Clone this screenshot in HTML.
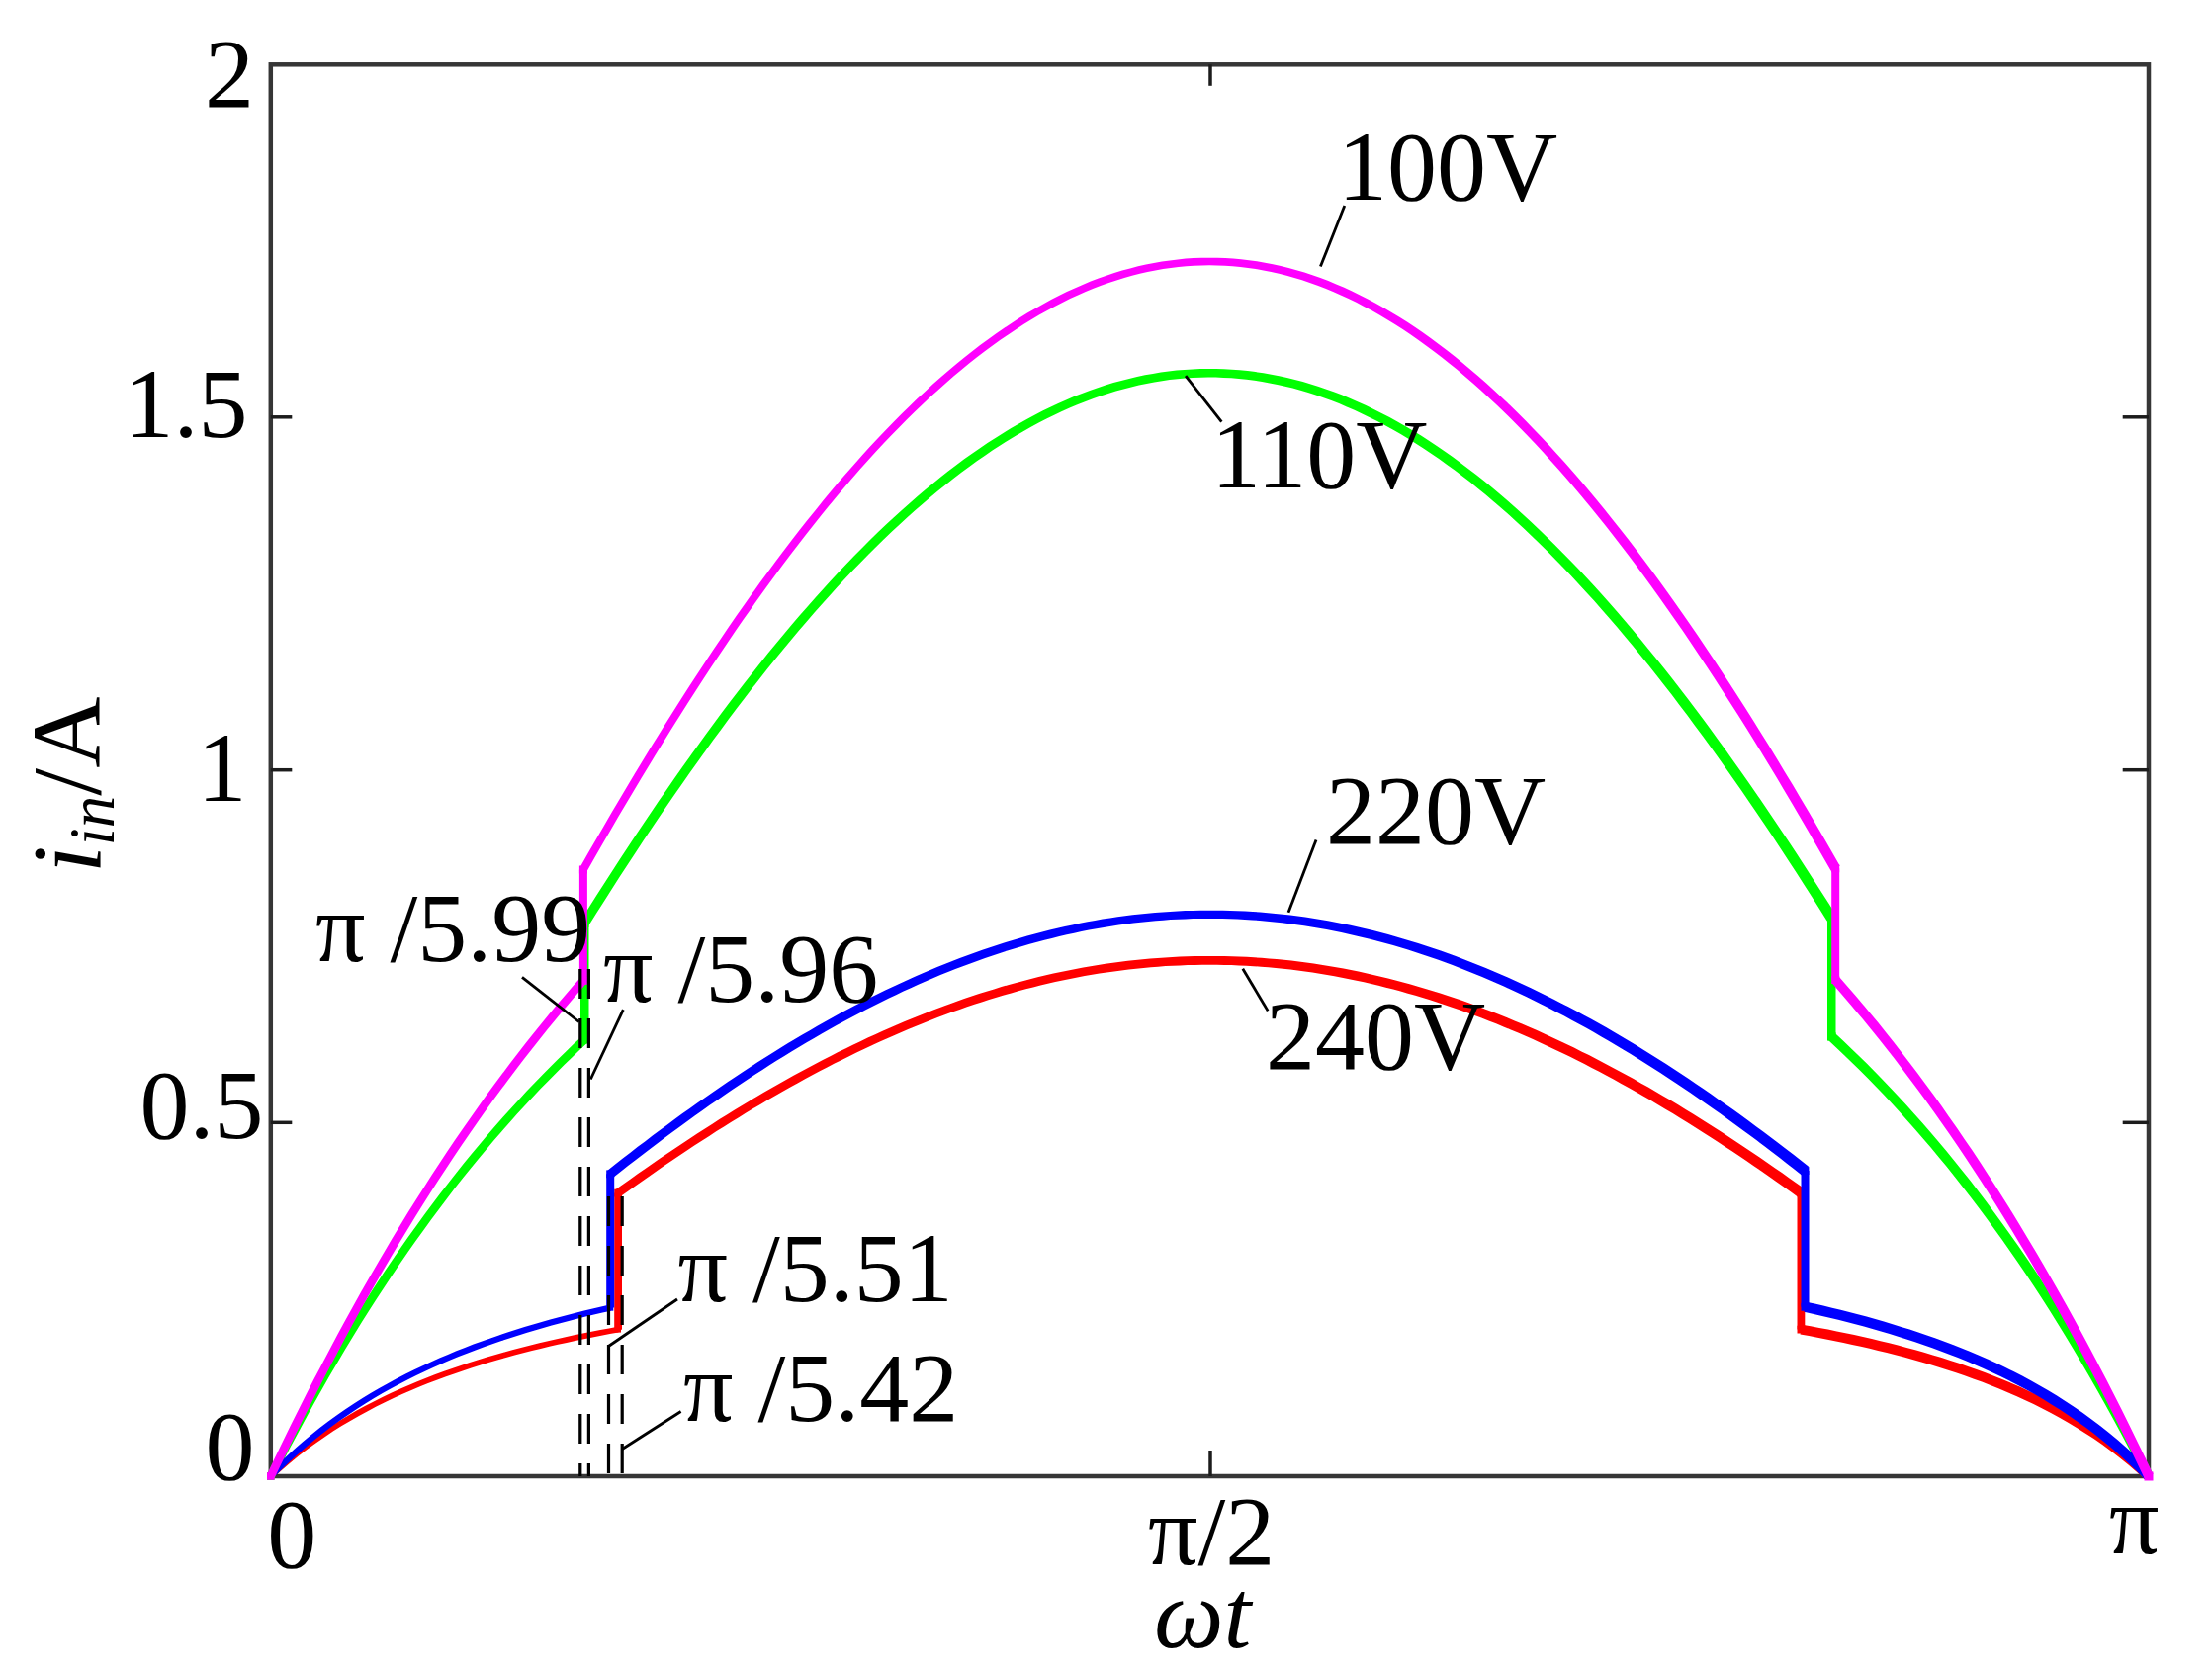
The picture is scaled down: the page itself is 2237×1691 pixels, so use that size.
<!DOCTYPE html>
<html><head><meta charset="utf-8"><title>i_in vs wt</title>
<style>html,body{margin:0;padding:0;background:#fff}body{width:2237px;height:1691px;overflow:hidden}svg{display:block}text{font-family:"Liberation Serif","DejaVu Serif",serif;fill:#000}</style></head><body>
<svg width="2237" height="1691" viewBox="0 0 2237 1691">
<rect width="2237" height="1691" fill="#fff"/>
<rect x="273.8" y="65.3" width="1899.2" height="1427.7" fill="none" stroke="#363636" stroke-width="4.5"/>
<line x1="273.8" y1="1135.3" x2="295.3" y2="1135.3" stroke="#1c1c1c" stroke-width="3.5"/>
<line x1="2173.0" y1="1135.3" x2="2146.7" y2="1135.3" stroke="#1c1c1c" stroke-width="3.5"/>
<line x1="273.8" y1="778.7" x2="295.3" y2="778.7" stroke="#1c1c1c" stroke-width="3.5"/>
<line x1="2173.0" y1="778.7" x2="2146.7" y2="778.7" stroke="#1c1c1c" stroke-width="3.5"/>
<line x1="273.8" y1="421.8" x2="295.3" y2="421.8" stroke="#1c1c1c" stroke-width="3.5"/>
<line x1="2173.0" y1="421.8" x2="2146.7" y2="421.8" stroke="#1c1c1c" stroke-width="3.5"/>
<line x1="1224.0" y1="1493.0" x2="1224.0" y2="1467.0" stroke="#1c1c1c" stroke-width="3.5"/>
<line x1="1224.0" y1="65.3" x2="1224.0" y2="86.8" stroke="#1c1c1c" stroke-width="3.5"/>
<g fill="#ff0000" stroke="none"><path d="M275.8 1495.1 L284.5 1487.2 L293.2 1479.7 L301.9 1472.6 L310.7 1465.8 L319.4 1459.4 L328.1 1453.4 L336.8 1447.6 L345.6 1442.1 L354.3 1436.9 L363.0 1431.9 L371.8 1427.2 L380.5 1422.6 L389.2 1418.3 L398.0 1414.1 L406.7 1410.1 L415.5 1406.3 L424.2 1402.6 L432.9 1399.1 L441.7 1395.7 L450.4 1392.5 L459.2 1389.4 L467.9 1386.4 L476.7 1383.5 L485.4 1380.7 L494.2 1378.1 L502.9 1375.5 L511.7 1373.0 L520.5 1370.6 L529.2 1368.3 L538.0 1366.1 L546.7 1363.9 L555.5 1361.8 L564.3 1359.8 L573.0 1357.9 L581.8 1356.0 L590.5 1354.2 L599.3 1352.4 L608.1 1350.7 L616.8 1349.1 L625.6 1347.5 L624.6 1341.8 L615.8 1343.4 L607.0 1345.0 L598.2 1346.8 L589.4 1348.5 L580.6 1350.3 L571.8 1352.2 L563.0 1354.2 L554.2 1356.2 L545.4 1358.3 L536.6 1360.4 L527.8 1362.7 L519.0 1365.0 L510.1 1367.4 L501.3 1369.9 L492.5 1372.5 L483.7 1375.2 L474.9 1378.0 L466.1 1380.9 L457.3 1383.9 L448.5 1387.0 L439.6 1390.3 L430.8 1393.7 L422.0 1397.3 L413.2 1401.0 L404.4 1404.8 L395.5 1408.8 L386.7 1413.0 L377.9 1417.4 L369.0 1422.0 L360.2 1426.8 L351.4 1431.9 L342.5 1437.2 L333.7 1442.7 L324.9 1448.6 L316.0 1454.7 L307.2 1461.2 L298.3 1468.0 L289.5 1475.2 L280.7 1482.8 L271.8 1490.9Z"/><path d="M627.6 1210.1 L635.1 1204.7 L642.5 1199.4 L650.0 1194.2 L657.5 1188.9 L664.9 1183.8 L672.4 1178.6 L679.9 1173.6 L687.3 1168.5 L694.8 1163.5 L702.2 1158.6 L709.7 1153.7 L717.2 1148.9 L724.6 1144.1 L732.1 1139.4 L739.5 1134.8 L747.0 1130.2 L754.4 1125.6 L761.9 1121.1 L769.4 1116.7 L776.8 1112.3 L784.3 1108.0 L791.7 1103.7 L799.2 1099.5 L806.6 1095.4 L814.1 1091.3 L821.5 1087.3 L829.0 1083.3 L836.4 1079.5 L843.9 1075.6 L851.3 1071.9 L858.8 1068.2 L866.2 1064.6 L873.7 1061.0 L881.1 1057.5 L888.6 1054.1 L896.0 1050.7 L903.5 1047.4 L910.9 1044.2 L918.4 1041.0 L925.8 1037.9 L933.3 1034.9 L940.7 1032.0 L948.2 1029.1 L955.6 1026.3 L963.0 1023.6 L970.5 1020.9 L977.9 1018.3 L985.4 1015.8 L992.8 1013.4 L1000.2 1011.0 L1007.7 1008.7 L1015.1 1006.5 L1022.6 1004.4 L1030.0 1002.3 L1037.4 1000.3 L1044.9 998.4 L1052.3 996.6 L1059.7 994.8 L1067.2 993.1 L1074.6 991.5 L1082.1 990.0 L1089.5 988.5 L1096.9 987.1 L1104.4 985.8 L1111.8 984.6 L1119.2 983.5 L1126.7 982.4 L1134.1 981.4 L1141.5 980.5 L1148.9 979.7 L1156.4 978.9 L1163.8 978.3 L1171.2 977.7 L1178.7 977.1 L1186.1 976.7 L1193.5 976.4 L1201.0 976.1 L1208.4 975.9 L1215.8 975.8 L1223.3 975.7 L1230.7 975.8 L1238.1 975.9 L1245.5 976.1 L1253.0 976.4 L1260.4 976.8 L1267.8 977.2 L1275.3 977.7 L1282.7 978.3 L1290.1 979.0 L1297.5 979.8 L1305.0 980.6 L1312.4 981.6 L1319.8 982.6 L1327.3 983.6 L1334.7 984.8 L1342.1 986.0 L1349.5 987.3 L1357.0 988.7 L1364.4 990.2 L1371.8 991.7 L1379.3 993.3 L1386.7 995.0 L1394.1 996.8 L1401.5 998.7 L1409.0 1000.6 L1416.4 1002.6 L1423.8 1004.7 L1431.3 1006.8 L1438.7 1009.0 L1446.1 1011.3 L1453.6 1013.7 L1461.0 1016.2 L1468.4 1018.7 L1475.9 1021.3 L1483.3 1023.9 L1490.7 1026.7 L1498.2 1029.5 L1505.6 1032.4 L1513.0 1035.3 L1520.5 1038.4 L1527.9 1041.4 L1535.3 1044.6 L1542.8 1047.8 L1550.2 1051.1 L1557.6 1054.5 L1565.1 1057.9 L1572.5 1061.4 L1580.0 1065.0 L1587.4 1068.6 L1594.8 1072.3 L1602.3 1076.1 L1609.7 1079.9 L1617.2 1083.8 L1624.6 1087.8 L1632.1 1091.8 L1639.5 1095.9 L1646.9 1100.0 L1654.4 1104.2 L1661.8 1108.5 L1669.3 1112.8 L1676.7 1117.2 L1684.2 1121.7 L1691.6 1126.1 L1699.1 1130.7 L1706.5 1135.3 L1714.0 1140.0 L1721.4 1144.7 L1728.9 1149.5 L1736.3 1154.3 L1743.8 1159.2 L1751.2 1164.1 L1758.7 1169.1 L1766.1 1174.1 L1773.6 1179.2 L1781.0 1184.3 L1788.5 1189.5 L1795.9 1194.8 L1803.4 1200.0 L1810.8 1205.3 L1818.3 1210.7 L1824.5 1202.1 L1817.0 1196.7 L1809.5 1191.4 L1802.0 1186.1 L1794.5 1180.9 L1787.0 1175.7 L1779.5 1170.5 L1772.0 1165.4 L1764.5 1160.4 L1757.0 1155.4 L1749.5 1150.5 L1742.0 1145.6 L1734.5 1140.7 L1727.0 1135.9 L1719.5 1131.2 L1712.0 1126.5 L1704.5 1121.9 L1697.0 1117.3 L1689.5 1112.8 L1682.0 1108.4 L1674.4 1104.0 L1666.9 1099.6 L1659.4 1095.4 L1651.9 1091.1 L1644.4 1087.0 L1636.9 1082.9 L1629.4 1078.9 L1621.9 1074.9 L1614.4 1071.0 L1606.9 1067.1 L1599.3 1063.4 L1591.8 1059.6 L1584.3 1056.0 L1576.8 1052.4 L1569.3 1048.9 L1561.8 1045.5 L1554.3 1042.1 L1546.7 1038.8 L1539.2 1035.5 L1531.7 1032.4 L1524.2 1029.3 L1516.7 1026.2 L1509.1 1023.3 L1501.6 1020.4 L1494.1 1017.6 L1486.6 1014.8 L1479.1 1012.1 L1471.6 1009.6 L1464.0 1007.0 L1456.5 1004.6 L1449.0 1002.2 L1441.5 999.9 L1433.9 997.7 L1426.4 995.5 L1418.9 993.4 L1411.4 991.4 L1403.8 989.5 L1396.3 987.7 L1388.8 985.9 L1381.3 984.2 L1373.8 982.6 L1366.2 981.1 L1358.7 979.6 L1351.2 978.2 L1343.7 976.9 L1336.1 975.7 L1328.6 974.6 L1321.1 973.5 L1313.5 972.5 L1306.0 971.6 L1298.5 970.8 L1291.0 970.0 L1283.4 969.4 L1275.9 968.8 L1268.4 968.3 L1260.9 967.8 L1253.3 967.5 L1245.8 967.2 L1238.3 967.0 L1230.8 966.9 L1223.2 966.9 L1215.7 967.0 L1208.2 967.1 L1200.7 967.3 L1193.2 967.6 L1185.6 967.9 L1178.1 968.4 L1170.6 968.9 L1163.1 969.5 L1155.5 970.2 L1148.0 971.0 L1140.5 971.8 L1133.0 972.7 L1125.5 973.7 L1117.9 974.8 L1110.4 976.0 L1102.9 977.2 L1095.4 978.5 L1087.8 979.9 L1080.3 981.4 L1072.8 983.0 L1065.3 984.6 L1057.8 986.3 L1050.3 988.1 L1042.7 989.9 L1035.2 991.9 L1027.7 993.9 L1020.2 996.0 L1012.7 998.1 L1005.2 1000.4 L997.6 1002.7 L990.1 1005.1 L982.6 1007.6 L975.1 1010.1 L967.6 1012.7 L960.1 1015.4 L952.6 1018.2 L945.1 1021.0 L937.5 1023.9 L930.0 1026.9 L922.5 1029.9 L915.0 1033.0 L907.5 1036.2 L900.0 1039.5 L892.5 1042.8 L885.0 1046.2 L877.5 1049.6 L870.0 1053.2 L862.5 1056.8 L855.0 1060.4 L847.5 1064.1 L840.0 1067.9 L832.5 1071.8 L825.0 1075.7 L817.5 1079.7 L810.0 1083.7 L802.5 1087.8 L795.0 1092.0 L787.5 1096.2 L780.0 1100.5 L772.5 1104.8 L765.0 1109.2 L757.5 1113.7 L750.0 1118.2 L742.5 1122.8 L735.0 1127.4 L727.5 1132.1 L720.0 1136.9 L712.5 1141.7 L705.0 1146.5 L697.5 1151.4 L690.0 1156.4 L682.5 1161.4 L675.0 1166.4 L667.5 1171.5 L660.0 1176.7 L652.5 1181.9 L645.1 1187.1 L637.6 1192.4 L630.1 1197.8 L622.6 1203.1Z"/><path d="M1820.5 1349.5 L1829.3 1351.1 L1838.0 1352.8 L1846.8 1354.4 L1855.6 1356.2 L1864.3 1358.0 L1873.1 1359.9 L1881.8 1361.8 L1890.6 1363.8 L1899.3 1365.9 L1908.1 1368.0 L1916.8 1370.3 L1925.6 1372.6 L1934.3 1375.0 L1943.1 1377.4 L1951.8 1380.0 L1960.6 1382.7 L1969.3 1385.4 L1978.0 1388.3 L1986.8 1391.3 L1995.5 1394.4 L2004.2 1397.6 L2012.9 1401.0 L2021.7 1404.5 L2030.4 1408.2 L2039.1 1412.0 L2047.8 1415.9 L2056.5 1420.1 L2065.3 1424.4 L2074.0 1429.0 L2082.7 1433.7 L2091.4 1438.7 L2100.1 1443.9 L2108.8 1449.4 L2117.5 1455.1 L2126.1 1461.1 L2134.8 1467.5 L2143.5 1474.2 L2152.2 1481.3 L2160.9 1488.7 L2169.6 1496.7 L2176.4 1489.3 L2167.5 1481.3 L2158.6 1473.6 L2149.7 1466.4 L2140.8 1459.5 L2132.0 1453.0 L2123.1 1446.8 L2114.2 1440.9 L2105.3 1435.4 L2096.4 1430.0 L2087.5 1425.0 L2078.7 1420.1 L2069.8 1415.5 L2060.9 1411.1 L2052.1 1406.9 L2043.2 1402.8 L2034.3 1399.0 L2025.5 1395.3 L2016.6 1391.7 L2007.8 1388.3 L1998.9 1385.0 L1990.1 1381.9 L1981.2 1378.8 L1972.4 1375.9 L1963.5 1373.1 L1954.7 1370.4 L1945.8 1367.8 L1937.0 1365.3 L1928.2 1362.9 L1919.3 1360.6 L1910.5 1358.3 L1901.7 1356.2 L1892.9 1354.1 L1884.0 1352.1 L1875.2 1350.1 L1866.4 1348.2 L1857.6 1346.4 L1848.7 1344.6 L1839.9 1342.9 L1831.1 1341.3 L1822.3 1339.7Z"/><path d="M621.2 1206.6H629.0V1344.7H621.2Z"/><path d="M1817.5 1206.4H1825.3V1344.6H1817.5Z"/><path d="M621.2 1202.7h7.8v7.8h-7.8Z"/><path d="M1817.5 1202.5h7.8v7.8h-7.8Z"/><path d="M270.9 1490.1h5.8v5.8h-5.8Z"/><path d="M622.2 1341.8h5.8v5.8h-5.8Z"/><path d="M1817.5 1340.7h7.8v7.8h-7.8Z"/><path d="M2169.2 1489.2h7.6v7.6h-7.6Z"/></g>
<g fill="#00ff00" stroke="none"><path d="M277.6 1494.9 L285.5 1479.4 L293.4 1464.1 L301.4 1449.2 L309.3 1434.5 L317.2 1420.1 L325.1 1406.0 L333.0 1392.1 L341.0 1378.5 L348.9 1365.1 L356.8 1352.0 L364.7 1339.1 L372.6 1326.5 L380.6 1314.1 L388.5 1301.9 L396.4 1290.0 L404.3 1278.3 L412.2 1266.8 L420.1 1255.5 L428.1 1244.4 L436.0 1233.5 L443.9 1222.9 L451.8 1212.4 L459.7 1202.1 L467.6 1192.1 L475.5 1182.2 L483.5 1172.5 L491.4 1162.9 L499.3 1153.6 L507.2 1144.4 L515.1 1135.4 L523.0 1126.6 L530.9 1118.0 L538.8 1109.5 L546.7 1101.1 L554.7 1093.0 L562.6 1085.0 L570.5 1077.1 L578.4 1069.4 L586.3 1061.8 L594.2 1054.4 L588.4 1048.2 L580.4 1055.6 L572.5 1063.3 L564.5 1071.0 L556.5 1079.0 L548.6 1087.0 L540.6 1095.3 L532.6 1103.6 L524.7 1112.2 L516.7 1120.9 L508.7 1129.8 L500.8 1138.8 L492.8 1148.1 L484.9 1157.5 L476.9 1167.1 L468.9 1176.8 L461.0 1186.8 L453.0 1196.9 L445.0 1207.2 L437.1 1217.8 L429.1 1228.5 L421.2 1239.4 L413.2 1250.6 L405.2 1261.9 L397.3 1273.5 L389.3 1285.3 L381.4 1297.3 L373.4 1309.5 L365.5 1321.9 L357.5 1334.6 L349.5 1347.6 L341.6 1360.7 L333.6 1374.2 L325.7 1387.8 L317.7 1401.8 L309.8 1416.0 L301.8 1430.4 L293.9 1445.2 L285.9 1460.2 L278.0 1475.5 L270.0 1491.1Z"/><path d="M595.4 936.1 L603.2 923.6 L611.1 911.2 L619.0 898.8 L626.8 886.6 L634.7 874.5 L642.6 862.5 L650.4 850.6 L658.3 838.8 L666.2 827.1 L674.0 815.5 L681.9 804.1 L689.8 792.7 L697.6 781.5 L705.5 770.4 L713.4 759.4 L721.2 748.6 L729.1 737.9 L736.9 727.3 L744.8 716.8 L752.7 706.5 L760.5 696.3 L768.4 686.2 L776.2 676.3 L784.1 666.5 L791.9 656.9 L799.8 647.4 L807.7 638.1 L815.5 628.9 L823.4 619.8 L831.2 610.9 L839.1 602.2 L846.9 593.6 L854.8 585.1 L862.6 576.8 L870.5 568.7 L878.3 560.7 L886.1 552.9 L894.0 545.2 L901.8 537.7 L909.7 530.4 L917.5 523.2 L925.3 516.2 L933.2 509.4 L941.0 502.7 L948.8 496.2 L956.7 489.9 L964.5 483.8 L972.3 477.8 L980.2 472.0 L988.0 466.3 L995.8 460.9 L1003.6 455.6 L1011.4 450.5 L1019.3 445.5 L1027.1 440.8 L1034.9 436.2 L1042.7 431.8 L1050.5 427.6 L1058.3 423.6 L1066.1 419.7 L1073.9 416.1 L1081.7 412.6 L1089.5 409.3 L1097.3 406.2 L1105.1 403.2 L1112.9 400.5 L1120.7 397.9 L1128.5 395.6 L1136.2 393.4 L1144.0 391.4 L1151.8 389.5 L1159.6 387.9 L1167.4 386.5 L1175.2 385.2 L1182.9 384.1 L1190.7 383.2 L1198.5 382.5 L1206.3 382.0 L1214.0 381.7 L1221.8 381.6 L1229.6 381.6 L1237.4 381.9 L1245.2 382.3 L1252.9 383.0 L1260.7 383.8 L1268.5 384.8 L1276.3 386.0 L1284.0 387.4 L1291.8 388.9 L1299.6 390.7 L1307.4 392.6 L1315.2 394.7 L1322.9 397.1 L1330.7 399.6 L1338.5 402.2 L1346.3 405.1 L1354.1 408.1 L1361.9 411.4 L1369.7 414.8 L1377.5 418.4 L1385.2 422.2 L1393.0 426.1 L1400.8 430.3 L1408.6 434.6 L1416.5 439.1 L1424.3 443.8 L1432.1 448.7 L1439.9 453.7 L1447.7 458.9 L1455.5 464.3 L1463.3 469.9 L1471.1 475.6 L1478.9 481.5 L1486.8 487.6 L1494.6 493.9 L1502.4 500.3 L1510.2 506.9 L1518.1 513.7 L1525.9 520.6 L1533.7 527.7 L1541.6 535.0 L1549.4 542.4 L1557.2 550.0 L1565.1 557.8 L1572.9 565.7 L1580.7 573.8 L1588.6 582.0 L1596.4 590.4 L1604.2 598.9 L1612.1 607.6 L1619.9 616.5 L1627.8 625.5 L1635.6 634.6 L1643.5 643.9 L1651.3 653.3 L1659.2 662.9 L1667.0 672.6 L1674.9 682.5 L1682.7 692.5 L1690.6 702.6 L1698.4 712.9 L1706.3 723.3 L1714.1 733.9 L1722.0 744.5 L1729.8 755.3 L1737.7 766.2 L1745.5 777.3 L1753.4 788.5 L1761.3 799.8 L1769.1 811.2 L1777.0 822.7 L1784.8 834.3 L1792.7 846.1 L1800.6 857.9 L1808.4 869.9 L1816.3 882.0 L1824.1 894.2 L1832.0 906.5 L1839.9 918.9 L1847.7 931.4 L1856.9 925.6 L1849.0 913.1 L1841.1 900.7 L1833.2 888.4 L1825.3 876.2 L1817.4 864.1 L1809.5 852.1 L1801.6 840.2 L1793.7 828.4 L1785.8 816.7 L1777.9 805.2 L1770.0 793.7 L1762.1 782.4 L1754.1 771.2 L1746.2 760.1 L1738.3 749.2 L1730.4 738.3 L1722.5 727.6 L1714.6 717.0 L1706.7 706.6 L1698.8 696.3 L1690.9 686.1 L1683.0 676.1 L1675.1 666.2 L1667.1 656.4 L1659.2 646.8 L1651.3 637.3 L1643.4 628.0 L1635.5 618.8 L1627.6 609.7 L1619.6 600.8 L1611.7 592.1 L1603.8 583.5 L1595.9 575.1 L1587.9 566.8 L1580.0 558.7 L1572.1 550.7 L1564.2 542.9 L1556.2 535.3 L1548.3 527.8 L1540.4 520.4 L1532.4 513.3 L1524.5 506.3 L1516.6 499.5 L1508.6 492.8 L1500.7 486.3 L1492.8 480.0 L1484.8 473.9 L1476.9 467.9 L1468.9 462.1 L1461.0 456.5 L1453.0 451.0 L1445.1 445.7 L1437.1 440.6 L1429.2 435.7 L1421.2 431.0 L1413.3 426.4 L1405.3 422.1 L1397.3 417.9 L1389.4 413.9 L1381.4 410.0 L1373.4 406.4 L1365.5 402.9 L1357.5 399.6 L1349.5 396.6 L1341.5 393.7 L1333.6 391.0 L1325.6 388.4 L1317.6 386.1 L1309.6 384.0 L1301.6 382.0 L1293.6 380.2 L1285.7 378.7 L1277.7 377.3 L1269.7 376.1 L1261.7 375.1 L1253.7 374.3 L1245.7 373.7 L1237.7 373.2 L1229.8 373.0 L1221.8 373.0 L1213.8 373.1 L1205.8 373.4 L1197.8 373.9 L1189.8 374.6 L1181.9 375.5 L1173.9 376.6 L1165.9 377.9 L1157.9 379.3 L1149.9 381.0 L1141.9 382.9 L1134.0 384.9 L1126.0 387.1 L1118.0 389.5 L1110.0 392.2 L1102.1 394.9 L1094.1 397.9 L1086.1 401.1 L1078.2 404.5 L1070.2 408.0 L1062.2 411.7 L1054.3 415.6 L1046.3 419.7 L1038.4 424.0 L1030.4 428.4 L1022.5 433.1 L1014.5 437.9 L1006.6 442.9 L998.6 448.1 L990.7 453.4 L982.7 458.9 L974.8 464.6 L966.9 470.5 L958.9 476.6 L951.0 482.8 L943.1 489.2 L935.1 495.7 L927.2 502.5 L919.3 509.4 L911.4 516.4 L903.4 523.7 L895.5 531.0 L887.6 538.6 L879.7 546.3 L871.8 554.2 L863.8 562.2 L855.9 570.4 L848.0 578.8 L840.1 587.3 L832.2 595.9 L824.3 604.7 L816.4 613.7 L808.4 622.8 L800.5 632.0 L792.6 641.4 L784.7 651.0 L776.8 660.6 L768.9 670.5 L761.0 680.4 L753.1 690.5 L745.2 700.8 L737.3 711.1 L729.4 721.6 L721.5 732.3 L713.6 743.0 L705.7 753.9 L697.8 764.9 L689.9 776.0 L682.0 787.3 L674.1 798.7 L666.2 810.1 L658.3 821.7 L650.4 833.5 L642.5 845.3 L634.6 857.2 L626.7 869.3 L618.8 881.4 L610.9 893.7 L603.0 906.0 L595.1 918.5 L587.2 931.0Z"/><path d="M1849.0 1051.9 L1857.0 1059.4 L1864.9 1066.9 L1872.9 1074.7 L1880.9 1082.5 L1888.9 1090.6 L1896.9 1098.8 L1904.9 1107.1 L1912.8 1115.6 L1920.8 1124.3 L1928.8 1133.2 L1936.8 1142.2 L1944.8 1151.4 L1952.8 1160.8 L1960.8 1170.4 L1968.8 1180.1 L1976.7 1190.1 L1984.7 1200.2 L1992.7 1210.5 L2000.7 1221.0 L2008.7 1231.8 L2016.7 1242.7 L2024.7 1253.8 L2032.7 1265.2 L2040.7 1276.8 L2048.7 1288.6 L2056.7 1300.6 L2064.7 1312.8 L2072.7 1325.3 L2080.6 1338.0 L2088.6 1351.0 L2096.6 1364.2 L2104.6 1377.7 L2112.6 1391.4 L2120.6 1405.4 L2128.6 1419.7 L2136.6 1434.2 L2144.6 1449.0 L2152.6 1464.1 L2160.6 1479.5 L2168.6 1495.2 L2177.4 1490.8 L2169.3 1475.0 L2161.3 1459.6 L2153.3 1444.4 L2145.2 1429.5 L2137.2 1414.9 L2129.2 1400.6 L2121.1 1386.5 L2113.1 1372.7 L2105.0 1359.2 L2097.0 1345.9 L2089.0 1332.9 L2080.9 1320.1 L2072.9 1307.5 L2064.8 1295.2 L2056.8 1283.1 L2048.8 1271.2 L2040.7 1259.6 L2032.7 1248.2 L2024.6 1236.9 L2016.6 1225.9 L2008.5 1215.1 L2000.5 1204.5 L1992.5 1194.1 L1984.4 1183.9 L1976.4 1173.9 L1968.3 1164.1 L1960.3 1154.5 L1952.2 1145.0 L1944.2 1135.8 L1936.1 1126.7 L1928.1 1117.7 L1920.0 1109.0 L1912.0 1100.4 L1903.9 1092.0 L1895.9 1083.7 L1887.8 1075.6 L1879.8 1067.7 L1871.7 1059.9 L1863.7 1052.2 L1855.6 1044.7Z"/><path d="M587.0 933.6H595.5V1051.3H587.0Z"/><path d="M1848.0 928.5H1856.5V1048.3H1848.0Z"/><path d="M587.0 929.3h8.5v8.5h-8.5Z"/><path d="M1848.0 924.2h8.5v8.5h-8.5Z"/><path d="M270.0 1489.2h7.6v7.6h-7.6Z"/><path d="M587.0 1047.0h8.5v8.5h-8.5Z"/><path d="M1848.0 1044.1h8.5v8.5h-8.5Z"/><path d="M2169.2 1489.2h7.6v7.6h-7.6Z"/></g>
<g fill="#0000ff" stroke="none"><path d="M276.0 1495.2 L284.6 1486.5 L293.1 1478.2 L301.6 1470.4 L310.2 1462.9 L318.7 1455.8 L327.2 1449.0 L335.7 1442.5 L344.3 1436.3 L352.8 1430.4 L361.3 1424.7 L369.9 1419.3 L378.4 1414.1 L386.9 1409.1 L395.5 1404.3 L404.0 1399.7 L412.6 1395.3 L421.1 1391.1 L429.6 1387.0 L438.2 1383.0 L446.7 1379.2 L455.3 1375.6 L463.8 1372.1 L472.4 1368.7 L480.9 1365.4 L489.5 1362.3 L498.0 1359.2 L506.6 1356.3 L515.1 1353.4 L523.7 1350.7 L532.3 1348.0 L540.8 1345.4 L549.4 1342.9 L557.9 1340.5 L566.5 1338.2 L575.1 1335.9 L583.6 1333.8 L592.2 1331.6 L600.7 1329.6 L609.3 1327.6 L617.9 1325.7 L616.5 1319.6 L607.9 1321.6 L599.3 1323.6 L590.7 1325.6 L582.1 1327.7 L573.5 1329.9 L564.9 1332.2 L556.3 1334.6 L547.7 1337.0 L539.1 1339.5 L530.4 1342.1 L521.8 1344.7 L513.2 1347.5 L504.6 1350.4 L496.0 1353.4 L487.4 1356.4 L478.7 1359.6 L470.1 1362.9 L461.5 1366.3 L452.9 1369.9 L444.3 1373.6 L435.6 1377.4 L427.0 1381.4 L418.4 1385.5 L409.8 1389.8 L401.1 1394.2 L392.5 1398.9 L383.9 1403.7 L375.2 1408.8 L366.6 1414.0 L358.0 1419.5 L349.3 1425.3 L340.7 1431.3 L332.0 1437.5 L323.4 1444.1 L314.8 1451.0 L306.1 1458.2 L297.5 1465.8 L288.8 1473.7 L280.2 1482.1 L271.6 1490.8Z"/><path d="M620.0 1190.9 L627.6 1185.0 L635.1 1179.1 L642.7 1173.2 L650.2 1167.4 L657.7 1161.7 L665.3 1156.0 L672.8 1150.3 L680.3 1144.7 L687.9 1139.2 L695.4 1133.7 L702.9 1128.3 L710.4 1122.9 L718.0 1117.6 L725.5 1112.4 L733.0 1107.2 L740.6 1102.0 L748.1 1097.0 L755.6 1092.0 L763.1 1087.0 L770.7 1082.2 L778.2 1077.3 L785.7 1072.6 L793.2 1067.9 L800.8 1063.3 L808.3 1058.8 L815.8 1054.3 L823.3 1049.9 L830.9 1045.5 L838.4 1041.3 L845.9 1037.1 L853.4 1033.0 L860.9 1028.9 L868.5 1024.9 L876.0 1021.0 L883.5 1017.2 L891.0 1013.4 L898.5 1009.8 L906.1 1006.2 L913.6 1002.6 L921.1 999.2 L928.6 995.8 L936.1 992.5 L943.6 989.3 L951.1 986.1 L958.7 983.1 L966.2 980.1 L973.7 977.2 L981.2 974.4 L988.7 971.7 L996.2 969.0 L1003.7 966.4 L1011.2 963.9 L1018.7 961.5 L1026.2 959.2 L1033.8 957.0 L1041.3 954.8 L1048.8 952.7 L1056.3 950.8 L1063.8 948.9 L1071.3 947.0 L1078.8 945.3 L1086.3 943.7 L1093.8 942.1 L1101.3 940.6 L1108.8 939.2 L1116.3 937.9 L1123.8 936.7 L1131.3 935.6 L1138.8 934.5 L1146.3 933.6 L1153.8 932.7 L1161.3 931.9 L1168.8 931.3 L1176.3 930.7 L1183.8 930.1 L1191.3 929.7 L1198.9 929.4 L1206.4 929.1 L1213.9 929.0 L1221.4 928.9 L1228.9 928.9 L1236.4 929.0 L1243.9 929.3 L1251.4 929.6 L1258.9 930.0 L1266.4 930.4 L1273.9 931.0 L1281.4 931.7 L1288.9 932.4 L1296.4 933.3 L1303.9 934.2 L1311.4 935.2 L1318.9 936.3 L1326.4 937.5 L1333.9 938.7 L1341.4 940.1 L1348.9 941.5 L1356.4 943.1 L1363.9 944.7 L1371.4 946.4 L1378.9 948.2 L1386.4 950.0 L1393.9 952.0 L1401.4 954.0 L1408.9 956.1 L1416.4 958.3 L1423.9 960.6 L1431.4 963.0 L1438.9 965.5 L1446.4 968.0 L1453.9 970.6 L1461.4 973.3 L1468.9 976.1 L1476.4 979.0 L1483.9 981.9 L1491.4 985.0 L1498.9 988.1 L1506.4 991.2 L1513.9 994.5 L1521.4 997.8 L1528.9 1001.3 L1536.4 1004.8 L1543.9 1008.3 L1551.4 1012.0 L1558.9 1015.7 L1566.4 1019.5 L1573.9 1023.4 L1581.5 1027.3 L1589.0 1031.4 L1596.5 1035.4 L1604.0 1039.6 L1611.5 1043.8 L1619.0 1048.2 L1626.5 1052.5 L1634.0 1057.0 L1641.5 1061.5 L1649.1 1066.1 L1656.6 1070.7 L1664.1 1075.4 L1671.6 1080.2 L1679.1 1085.1 L1686.6 1090.0 L1694.2 1095.0 L1701.7 1100.0 L1709.2 1105.1 L1716.7 1110.3 L1724.2 1115.5 L1731.7 1120.8 L1739.3 1126.1 L1746.8 1131.5 L1754.3 1136.9 L1761.8 1142.5 L1769.4 1148.0 L1776.9 1153.6 L1784.4 1159.3 L1791.9 1165.0 L1799.5 1170.8 L1807.0 1176.7 L1814.5 1182.5 L1822.0 1188.5 L1829.0 1179.7 L1821.4 1173.7 L1813.8 1167.8 L1806.2 1162.0 L1798.7 1156.2 L1791.1 1150.5 L1783.5 1144.8 L1775.9 1139.2 L1768.3 1133.6 L1760.8 1128.1 L1753.2 1122.6 L1745.6 1117.2 L1738.0 1111.9 L1730.4 1106.6 L1722.8 1101.3 L1715.3 1096.2 L1707.7 1091.1 L1700.1 1086.0 L1692.5 1081.0 L1684.9 1076.1 L1677.3 1071.3 L1669.7 1066.5 L1662.1 1061.7 L1654.6 1057.1 L1647.0 1052.5 L1639.4 1048.0 L1631.8 1043.5 L1624.2 1039.1 L1616.6 1034.8 L1609.0 1030.6 L1601.4 1026.4 L1593.8 1022.3 L1586.2 1018.3 L1578.6 1014.4 L1571.0 1010.5 L1563.4 1006.7 L1555.8 1002.9 L1548.2 999.3 L1540.6 995.7 L1533.0 992.2 L1525.4 988.8 L1517.8 985.5 L1510.2 982.2 L1502.6 979.0 L1495.0 975.9 L1487.4 972.9 L1479.8 970.0 L1472.2 967.1 L1464.6 964.3 L1457.0 961.6 L1449.4 959.0 L1441.8 956.5 L1434.2 954.0 L1426.6 951.7 L1419.0 949.4 L1411.4 947.2 L1403.8 945.1 L1396.2 943.1 L1388.6 941.1 L1381.0 939.3 L1373.4 937.5 L1365.8 935.8 L1358.2 934.3 L1350.6 932.7 L1343.0 931.3 L1335.4 930.0 L1327.8 928.8 L1320.2 927.6 L1312.6 926.5 L1305.0 925.6 L1297.4 924.7 L1289.8 923.9 L1282.2 923.2 L1274.5 922.5 L1266.9 922.0 L1259.3 921.6 L1251.7 921.2 L1244.1 920.9 L1236.5 920.8 L1228.9 920.7 L1221.3 920.7 L1213.7 920.7 L1206.1 920.9 L1198.5 921.1 L1190.9 921.5 L1183.3 921.9 L1175.7 922.4 L1168.1 923.0 L1160.5 923.7 L1152.9 924.4 L1145.3 925.3 L1137.7 926.3 L1130.1 927.3 L1122.5 928.4 L1114.9 929.6 L1107.3 930.9 L1099.7 932.3 L1092.1 933.8 L1084.5 935.4 L1076.9 937.0 L1069.3 938.8 L1061.7 940.6 L1054.1 942.5 L1046.5 944.5 L1038.9 946.6 L1031.4 948.7 L1023.8 951.0 L1016.2 953.3 L1008.6 955.8 L1001.0 958.3 L993.4 960.8 L985.8 963.5 L978.2 966.3 L970.6 969.1 L963.0 972.0 L955.4 975.0 L947.8 978.1 L940.2 981.2 L932.6 984.5 L925.1 987.8 L917.5 991.2 L909.9 994.7 L902.3 998.2 L894.7 1001.8 L887.1 1005.5 L879.5 1009.3 L871.9 1013.2 L864.4 1017.1 L856.8 1021.1 L849.2 1025.1 L841.6 1029.3 L834.0 1033.5 L826.4 1037.8 L818.9 1042.2 L811.3 1046.6 L803.7 1051.1 L796.1 1055.6 L788.5 1060.3 L781.0 1065.0 L773.4 1069.7 L765.8 1074.6 L758.2 1079.5 L750.6 1084.4 L743.1 1089.5 L735.5 1094.5 L727.9 1099.7 L720.3 1104.9 L712.8 1110.2 L705.2 1115.5 L697.6 1120.9 L690.0 1126.3 L682.5 1131.8 L674.9 1137.4 L667.3 1143.0 L659.8 1148.6 L652.2 1154.4 L644.6 1160.1 L637.1 1165.9 L629.5 1171.8 L621.9 1177.7 L614.4 1183.7Z"/><path d="M1824.4 1326.8 L1833.1 1328.7 L1841.7 1330.7 L1850.4 1332.7 L1859.0 1334.8 L1867.7 1337.0 L1876.3 1339.3 L1885.0 1341.6 L1893.6 1344.0 L1902.2 1346.5 L1910.9 1349.0 L1919.5 1351.7 L1928.2 1354.4 L1936.8 1357.3 L1945.4 1360.2 L1954.1 1363.3 L1962.7 1366.4 L1971.3 1369.7 L1980.0 1373.1 L1988.6 1376.6 L1997.2 1380.2 L2005.8 1384.0 L2014.5 1388.0 L2023.1 1392.1 L2031.7 1396.3 L2040.3 1400.7 L2048.9 1405.3 L2057.5 1410.1 L2066.1 1415.1 L2074.7 1420.4 L2083.3 1425.8 L2091.9 1431.5 L2100.5 1437.4 L2109.1 1443.6 L2117.7 1450.1 L2126.3 1457.0 L2134.9 1464.1 L2143.5 1471.6 L2152.1 1479.5 L2160.7 1487.8 L2169.3 1496.6 L2176.7 1489.4 L2167.9 1480.5 L2159.2 1472.0 L2150.4 1463.9 L2141.6 1456.3 L2132.8 1449.0 L2124.0 1442.0 L2115.3 1435.4 L2106.5 1429.0 L2097.7 1422.9 L2088.9 1417.2 L2080.1 1411.6 L2071.4 1406.3 L2062.6 1401.2 L2053.8 1396.3 L2045.1 1391.6 L2036.3 1387.1 L2027.6 1382.8 L2018.8 1378.6 L2010.0 1374.6 L2001.3 1370.8 L1992.5 1367.1 L1983.8 1363.5 L1975.0 1360.1 L1966.3 1356.8 L1957.6 1353.6 L1948.8 1350.5 L1940.1 1347.5 L1931.3 1344.6 L1922.6 1341.9 L1913.9 1339.2 L1905.1 1336.6 L1896.4 1334.1 L1887.7 1331.6 L1878.9 1329.3 L1870.2 1327.0 L1861.5 1324.8 L1852.8 1322.7 L1844.0 1320.6 L1835.3 1318.6 L1826.6 1316.7Z"/><path d="M613.2 1187.3H621.2V1322.6H613.2Z"/><path d="M1821.5 1184.1H1829.5V1321.7H1821.5Z"/><path d="M613.2 1183.4h7.9v7.9h-7.9Z"/><path d="M1821.5 1180.1h7.9v7.9h-7.9Z"/><path d="M270.7 1489.9h6.2v6.2h-6.2Z"/><path d="M614.1 1319.5h6.2v6.2h-6.2Z"/><path d="M1821.5 1317.8h7.9v7.9h-7.9Z"/><path d="M2169.2 1489.2h7.6v7.6h-7.6Z"/></g>
<g fill="#ff00ff" stroke="none"><path d="M277.6 1494.8 L285.5 1478.3 L293.4 1461.9 L301.3 1445.9 L309.2 1430.0 L317.1 1414.4 L325.0 1399.0 L332.9 1383.8 L340.8 1368.9 L348.7 1354.1 L356.6 1339.6 L364.4 1325.3 L372.3 1311.3 L380.2 1297.4 L388.1 1283.7 L396.0 1270.3 L403.9 1257.0 L411.8 1244.0 L419.7 1231.1 L427.5 1218.5 L435.4 1206.0 L443.3 1193.7 L451.2 1181.7 L459.1 1169.8 L467.0 1158.1 L474.9 1146.6 L482.7 1135.2 L490.6 1124.1 L498.5 1113.1 L506.4 1102.3 L514.3 1091.7 L522.2 1081.3 L530.0 1071.0 L537.9 1060.9 L545.8 1050.9 L553.7 1041.1 L561.6 1031.5 L569.4 1022.1 L577.3 1012.8 L585.2 1003.6 L593.1 994.6 L586.7 989.0 L578.8 998.1 L570.9 1007.3 L562.9 1016.6 L555.0 1026.1 L547.1 1035.8 L539.2 1045.6 L531.2 1055.6 L523.3 1065.8 L515.4 1076.1 L507.5 1086.6 L499.5 1097.3 L491.6 1108.1 L483.7 1119.2 L475.8 1130.4 L467.9 1141.7 L459.9 1153.3 L452.0 1165.1 L444.1 1177.0 L436.2 1189.1 L428.3 1201.4 L420.3 1213.9 L412.4 1226.6 L404.5 1239.5 L396.6 1252.6 L388.7 1265.9 L380.8 1279.5 L372.8 1293.2 L364.9 1307.1 L357.0 1321.2 L349.1 1335.6 L341.2 1350.1 L333.3 1364.9 L325.4 1379.9 L317.4 1395.1 L309.5 1410.5 L301.6 1426.2 L293.7 1442.1 L285.8 1458.2 L277.9 1474.6 L270.0 1491.2Z"/><path d="M593.4 881.5 L601.3 867.6 L609.2 853.8 L617.1 840.2 L625.0 826.6 L632.9 813.2 L640.8 799.9 L648.7 786.7 L656.6 773.7 L664.5 760.7 L672.4 747.9 L680.3 735.2 L688.2 722.7 L696.1 710.2 L704.0 697.9 L711.9 685.8 L719.8 673.8 L727.7 661.9 L735.6 650.2 L743.5 638.6 L751.4 627.1 L759.3 615.9 L767.2 604.7 L775.1 593.7 L783.0 582.9 L790.9 572.2 L798.8 561.7 L806.7 551.4 L814.6 541.2 L822.5 531.2 L830.4 521.3 L838.3 511.6 L846.2 502.1 L854.1 492.7 L862.0 483.6 L869.8 474.6 L877.7 465.7 L885.6 457.1 L893.5 448.6 L901.4 440.3 L909.3 432.2 L917.1 424.3 L925.0 416.5 L932.9 409.0 L940.8 401.6 L948.7 394.4 L956.5 387.4 L964.4 380.6 L972.3 374.0 L980.1 367.6 L988.0 361.3 L995.9 355.3 L1003.7 349.5 L1011.6 343.8 L1019.5 338.4 L1027.3 333.2 L1035.2 328.1 L1043.0 323.3 L1050.9 318.6 L1058.7 314.2 L1066.6 309.9 L1074.4 305.9 L1082.2 302.1 L1090.1 298.4 L1097.9 295.0 L1105.8 291.8 L1113.6 288.8 L1121.4 286.0 L1129.2 283.4 L1137.1 281.0 L1144.9 278.8 L1152.7 276.8 L1160.5 275.0 L1168.4 273.4 L1176.2 272.1 L1184.0 270.9 L1191.8 270.0 L1199.6 269.2 L1207.4 268.7 L1215.2 268.4 L1223.1 268.3 L1230.9 268.4 L1238.7 268.7 L1246.5 269.2 L1254.3 270.0 L1262.1 270.9 L1269.9 272.1 L1277.7 273.4 L1285.5 275.0 L1293.4 276.8 L1301.2 278.8 L1309.0 280.9 L1316.8 283.3 L1324.6 285.9 L1332.4 288.7 L1340.3 291.8 L1348.1 295.0 L1355.9 298.4 L1363.7 302.0 L1371.6 305.8 L1379.4 309.9 L1387.2 314.1 L1395.0 318.5 L1402.9 323.2 L1410.7 328.0 L1418.6 333.1 L1426.4 338.3 L1434.2 343.7 L1442.1 349.4 L1449.9 355.2 L1457.8 361.2 L1465.6 367.4 L1473.5 373.8 L1481.3 380.4 L1489.2 387.2 L1497.1 394.2 L1504.9 401.4 L1512.8 408.8 L1520.6 416.3 L1528.5 424.0 L1536.4 432.0 L1544.2 440.1 L1552.1 448.3 L1560.0 456.8 L1567.8 465.4 L1575.7 474.3 L1583.6 483.3 L1591.5 492.4 L1599.3 501.8 L1607.2 511.3 L1615.1 521.0 L1623.0 530.8 L1630.8 540.8 L1638.7 551.0 L1646.6 561.3 L1654.5 571.8 L1662.4 582.5 L1670.2 593.3 L1678.1 604.3 L1686.0 615.4 L1693.9 626.7 L1701.8 638.1 L1709.7 649.7 L1717.5 661.4 L1725.4 673.3 L1733.3 685.3 L1741.2 697.4 L1749.1 709.7 L1757.0 722.1 L1764.9 734.6 L1772.8 747.3 L1780.7 760.1 L1788.6 773.1 L1796.5 786.1 L1804.3 799.3 L1812.2 812.6 L1820.1 826.0 L1828.0 839.5 L1835.9 853.2 L1843.8 866.9 L1851.7 880.8 L1860.7 875.7 L1852.7 861.8 L1844.8 848.1 L1836.9 834.4 L1828.9 820.8 L1821.0 807.4 L1813.1 794.1 L1805.1 780.9 L1797.2 767.8 L1789.3 754.8 L1781.3 742.0 L1773.4 729.3 L1765.5 716.7 L1757.5 704.3 L1749.6 692.0 L1741.6 679.8 L1733.7 667.8 L1725.8 655.9 L1717.8 644.1 L1709.9 632.5 L1701.9 621.1 L1694.0 609.8 L1686.0 598.6 L1678.1 587.6 L1670.2 576.8 L1662.2 566.1 L1654.3 555.5 L1646.3 545.1 L1638.4 534.9 L1630.4 524.9 L1622.5 515.0 L1614.5 505.3 L1606.6 495.7 L1598.6 486.3 L1590.6 477.1 L1582.7 468.1 L1574.7 459.2 L1566.8 450.5 L1558.8 442.0 L1550.8 433.7 L1542.9 425.5 L1534.9 417.6 L1527.0 409.8 L1519.0 402.2 L1511.0 394.8 L1503.1 387.5 L1495.1 380.5 L1487.1 373.7 L1479.1 367.0 L1471.2 360.5 L1463.2 354.3 L1455.2 348.2 L1447.2 342.3 L1439.2 336.6 L1431.2 331.1 L1423.3 325.8 L1415.3 320.8 L1407.3 315.9 L1399.3 311.2 L1391.3 306.7 L1383.3 302.4 L1375.3 298.4 L1367.3 294.5 L1359.3 290.8 L1351.3 287.4 L1343.3 284.1 L1335.3 281.1 L1327.3 278.3 L1319.2 275.6 L1311.2 273.2 L1303.2 271.0 L1295.2 269.0 L1287.2 267.2 L1279.2 265.7 L1271.1 264.3 L1263.1 263.2 L1255.1 262.3 L1247.1 261.5 L1239.1 261.0 L1231.1 260.7 L1223.0 260.7 L1215.0 260.8 L1207.0 261.1 L1199.0 261.6 L1191.0 262.4 L1183.0 263.4 L1175.0 264.5 L1166.9 265.9 L1158.9 267.5 L1150.9 269.3 L1142.9 271.4 L1134.9 273.6 L1126.9 276.1 L1118.9 278.7 L1110.9 281.6 L1102.9 284.6 L1094.9 287.9 L1086.9 291.4 L1078.9 295.1 L1070.9 299.0 L1063.0 303.1 L1055.0 307.4 L1047.0 311.9 L1039.0 316.6 L1031.0 321.6 L1023.1 326.7 L1015.1 332.0 L1007.1 337.5 L999.2 343.2 L991.2 349.1 L983.2 355.2 L975.3 361.5 L967.3 368.0 L959.3 374.7 L951.4 381.5 L943.4 388.6 L935.5 395.9 L927.5 403.3 L919.6 410.9 L911.6 418.7 L903.7 426.7 L895.7 434.9 L887.8 443.2 L879.8 451.8 L871.9 460.5 L864.0 469.4 L856.0 478.4 L848.1 487.6 L840.1 497.0 L832.2 506.6 L824.3 516.4 L816.3 526.3 L808.4 536.3 L800.5 546.6 L792.5 557.0 L784.6 567.5 L776.7 578.2 L768.7 589.1 L760.8 600.1 L752.9 611.3 L744.9 622.6 L737.0 634.1 L729.1 645.7 L721.1 657.5 L713.2 669.4 L705.3 681.4 L697.4 693.6 L689.4 705.9 L681.5 718.4 L673.6 731.0 L665.7 743.7 L657.7 756.5 L649.8 769.5 L641.9 782.6 L634.0 795.8 L626.0 809.2 L618.1 822.6 L610.2 836.2 L602.3 849.8 L594.3 863.6 L586.4 877.5Z"/><path d="M1852.6 994.2 L1860.5 1003.2 L1868.4 1012.4 L1876.2 1021.7 L1884.1 1031.1 L1892.0 1040.8 L1899.9 1050.6 L1907.8 1060.5 L1915.7 1070.6 L1923.6 1080.9 L1931.5 1091.4 L1939.4 1102.0 L1947.3 1112.8 L1955.2 1123.8 L1963.1 1134.9 L1971.0 1146.3 L1978.9 1157.8 L1986.8 1169.5 L1994.7 1181.4 L2002.6 1193.5 L2010.5 1205.8 L2018.4 1218.3 L2026.3 1230.9 L2034.2 1243.8 L2042.1 1256.9 L2050.0 1270.1 L2057.9 1283.6 L2065.8 1297.3 L2073.7 1311.2 L2081.6 1325.3 L2089.5 1339.6 L2097.5 1354.1 L2105.4 1368.9 L2113.3 1383.9 L2121.2 1399.1 L2129.1 1414.5 L2137.0 1430.1 L2144.9 1446.0 L2152.8 1462.1 L2160.7 1478.5 L2168.6 1495.1 L2177.4 1490.9 L2169.5 1474.3 L2161.5 1457.9 L2153.6 1441.7 L2145.7 1425.8 L2137.7 1410.1 L2129.8 1394.6 L2121.9 1379.4 L2113.9 1364.3 L2106.0 1349.5 L2098.1 1334.9 L2090.1 1320.6 L2082.2 1306.4 L2074.2 1292.5 L2066.3 1278.7 L2058.4 1265.2 L2050.4 1251.9 L2042.5 1238.7 L2034.6 1225.8 L2026.6 1213.1 L2018.7 1200.6 L2010.7 1188.2 L2002.8 1176.1 L1994.9 1164.1 L1986.9 1152.4 L1979.0 1140.8 L1971.0 1129.4 L1963.1 1118.1 L1955.2 1107.1 L1947.2 1096.2 L1939.3 1085.5 L1931.3 1075.0 L1923.4 1064.7 L1915.5 1054.5 L1907.5 1044.5 L1899.6 1034.6 L1891.6 1025.0 L1883.7 1015.4 L1875.7 1006.1 L1867.8 996.9 L1859.8 987.8Z"/><path d="M585.9 879.5H593.9V991.8H585.9Z"/><path d="M1852.2 878.3H1860.2V991.0H1852.2Z"/><path d="M585.9 875.5h8.0v8.0h-8.0Z"/><path d="M1852.2 874.3h8.0v8.0h-8.0Z"/><path d="M270.0 1489.2h7.6v7.6h-7.6Z"/><path d="M585.9 987.8h8.0v8.0h-8.0Z"/><path d="M1852.2 987.0h8.0v8.0h-8.0Z"/><path d="M2168.5 1488.5h9.0v9.0h-9.0Z"/></g>
<line x1="586.8" y1="980.0" x2="586.8" y2="1493.0" stroke="#000" stroke-width="3.2" stroke-dasharray="30 20"/>
<line x1="595.4" y1="980.0" x2="595.4" y2="1493.0" stroke="#000" stroke-width="3.2" stroke-dasharray="30 20"/>
<line x1="615.5" y1="1210.0" x2="615.5" y2="1493.0" stroke="#000" stroke-width="3.2" stroke-dasharray="30 20"/>
<line x1="629.2" y1="1210.0" x2="629.2" y2="1493.0" stroke="#000" stroke-width="3.2" stroke-dasharray="30 20"/>
<line x1="1359.8" y1="208.0" x2="1335.4" y2="269.6" stroke="#000" stroke-width="2.8"/>
<line x1="1199.0" y1="380.2" x2="1235.4" y2="426.6" stroke="#000" stroke-width="2.8"/>
<line x1="1331.0" y1="849.5" x2="1303.0" y2="922.7" stroke="#000" stroke-width="2.8"/>
<line x1="1256.8" y1="979.7" x2="1282.2" y2="1022.4" stroke="#000" stroke-width="2.8"/>
<line x1="528.0" y1="988.4" x2="585.6" y2="1033.5" stroke="#000" stroke-width="2.8"/>
<line x1="630.3" y1="1021.2" x2="597.3" y2="1091.5" stroke="#000" stroke-width="2.8"/>
<line x1="685.0" y1="1314.0" x2="615.4" y2="1361.5" stroke="#000" stroke-width="2.8"/>
<line x1="688.6" y1="1427.5" x2="628.9" y2="1465.8" stroke="#000" stroke-width="2.8"/>
<text x="257.0" y="107.5" font-size="100" text-anchor="end">2</text>
<text x="250.5" y="441.7" font-size="100" text-anchor="end">1.5</text>
<text x="249.5" y="810.0" font-size="100" text-anchor="end">1</text>
<text x="266.5" y="1151.0" font-size="100" text-anchor="end">0.5</text>
<text x="257.5" y="1495.5" font-size="100" text-anchor="end">0</text>
<text x="270.3" y="1584.5" font-size="100" text-anchor="start">0</text>
<text x="1161.0" y="1581.6" font-size="100" text-anchor="start">π/2</text>
<text x="2133.0" y="1571.0" font-size="100" text-anchor="start">π</text>
<text x="1167" y="1665.5" font-size="100" font-style="italic">ωt</text>
<text transform="translate(100.5,883) rotate(-90)" font-size="100"><tspan font-style="italic">i</tspan><tspan font-style="italic" font-size="65" dy="14">in</tspan><tspan dy="-14">/A</tspan></text>
<text x="1353.0" y="201.8" font-size="100" text-anchor="start">100V</text>
<text x="1225.0" y="493.2" font-size="100" text-anchor="start">110V</text>
<text x="1341.0" y="852.6" font-size="100" text-anchor="start">220V</text>
<text x="1280.0" y="1081.4" font-size="100" text-anchor="start">240V</text>
<text x="319.0" y="971.9" font-size="100" text-anchor="start">π /5.99</text>
<text x="610.0" y="1013.0" font-size="100" text-anchor="start">π /5.96</text>
<text x="685.5" y="1315.7" font-size="100" text-anchor="start">π /5.51</text>
<text x="691.0" y="1436.9" font-size="100" text-anchor="start">π /5.42</text>
</svg></body></html>
